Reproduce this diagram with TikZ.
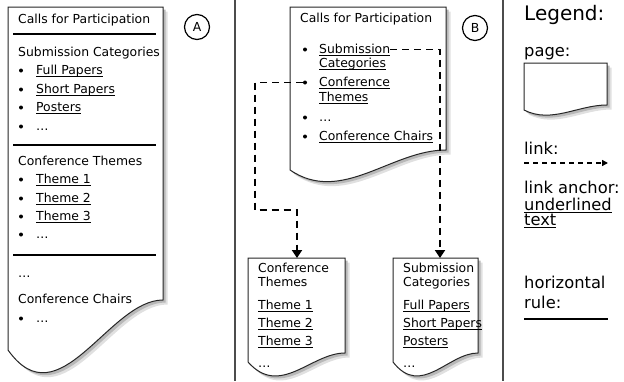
\documentclass[tikz,border=0pt]{standalone}
\usepackage{fontspec}
\setmainfont{DejaVu Sans}
\newcommand{\ulink}[1]{{\setbox0\hbox{#1}\rlap{\rule[-2.9pt]{\wd0}{0.9pt}}\box0}}
\usetikzlibrary{arrows.meta, positioning}

\begin{document}
\begin{tikzpicture}[x=1pt, y=-1pt,
  txt/.style={font=\fontsize{12.4}{14}\selectfont, inner sep=0pt, anchor=base west},
  lgtxt/.style={font=\fontsize{16.3}{19}\selectfont, inner sep=0pt, anchor=base west},
  itemdot/.style={circle, fill=black, inner sep=0pt, minimum size=4pt},
  rulebar/.style={draw=black, line width=2pt},
  sep/.style={draw=black!70, line width=1.6pt},
  pagebox/.style={draw=black!85, fill=white, line width=1pt},
  pageshadow/.style={fill=black!28},
  tag/.style={circle, draw=black, line width=1.2pt, minimum size=25pt, inner sep=0pt, font=\fontsize{12.4}{14}\selectfont},
  link/.style={draw=black, line width=1.8pt, dash pattern=on 7pt off 5pt, -{Triangle[width=10pt, length=8pt]}},
  legendlink/.style={draw=black, line width=1.4pt, dash pattern=on 5pt off 4pt, -{Triangle[width=6pt, length=6pt]}},
]
\useasboundingbox (0,0) rectangle (624,381);

% pages: left/top/right/left bottom/right bottom/wave depth
\foreach \l/\t/\r/\yl/\yr/\k in {8/7/163/350/300/72, 290/7/446/170/150/35, 248/258/345/362/353/36, 393/258/478/362/353/36, 524/63/607/110/105/14} {
  \fill[pageshadow, black!12, shift={(4.5,4.5)}] (\l,\t) -- (\r,\t) -- (\r,\yr) .. controls ({\r-0.35*(\r-\l)},\yr) and ({\l+0.33*(\r-\l)},{\yl+\k}) .. (\l,\yl) -- cycle;
  \fill[pageshadow, shift={(2.5,2.5)}] (\l,\t) -- (\r,\t) -- (\r,\yr) .. controls ({\r-0.35*(\r-\l)},\yr) and ({\l+0.33*(\r-\l)},{\yl+\k}) .. (\l,\yl) -- cycle;
  \draw[pagebox] (\l,\t) -- (\r,\t) -- (\r,\yr) .. controls ({\r-0.35*(\r-\l)},\yr) and ({\l+0.33*(\r-\l)},{\yl+\k}) .. (\l,\yl) -- cycle;
}

% separators
\draw[sep] (235,0) -- (235,381);
\draw[sep] (503,0) -- (503,381);

% A -- one long page
\node[txt] (aTitle) at (18,23) {Calls for Participation};
\draw[rulebar] (13,34) -- (156,34);
\node[txt] (aSub) at (18,56) {Submission Categories};
\foreach \txt/\y [count=\i] in {\ulink{Full Papers}/74, \ulink{Short Papers}/93, \ulink{Posters}/111, …/130} {
  \node[itemdot] (aSb\i) at (21,\y-3.5) {};
  \node[txt] (aSi\i) at (36,\y) {\txt};
}
\draw[rulebar] (13,145) -- (156,145);
\node[txt] (aThm) at (18,165) {Conference Themes};
\foreach \txt/\y [count=\i] in {\ulink{Theme 1}/183, \ulink{Theme 2}/202, \ulink{Theme 3}/220, …/238} {
  \node[itemdot] (aTb\i) at (21,\y-3.5) {};
  \node[txt] (aTi\i) at (36,\y) {\txt};
}
\draw[rulebar] (13,255) -- (156,255);
\node[txt] (aMore) at (18,277) {…};
\node[txt] (aChairs) at (18,303) {Conference Chairs};
\node[itemdot] (aCb1) at (21,318.5) {};
\node[txt] (aCi1) at (36,322) {…};
\node[tag] (tagA) at (197,27) {A};

% B -- split into linked pages
\node[txt] (bTitle) at (300,22) {Calls for Participation};
\node[itemdot] (bB1) at (305,49.5) {};
\node[txt] (bSub) at (319,53) {\ulink{Submission}};
\node[txt] (bSub2) at (319,67) {\ulink{Categories}};
\node[itemdot] (bB2) at (305,82.5) {};
\node[txt] (bThm) at (319,86) {\ulink{Conference}};
\node[txt] (bThm2) at (319,101) {\ulink{Themes}};
\node[itemdot] (bB3) at (305,117.5) {};
\node[txt] (bMore) at (319,121) {…};
\node[itemdot] (bB4) at (305,136.5) {};
\node[txt] (bChairs) at (319,140) {\ulink{Conference Chairs}};
\node[tag] (tagB) at (475,28) {B};

\node[txt] (tHead) at (258,272) {Conference};
\node[txt] (tHead2) at (258,286) {Themes};
\node[txt] (tItem1) at (258,309) {\ulink{Theme 1}};
\node[txt] (tItem2) at (258,327) {\ulink{Theme 2}};
\node[txt] (tItem3) at (258,345) {\ulink{Theme 3}};
\node[txt] (tMore) at (258,367) {…};

\node[txt] (sHead) at (403,272) {Submission};
\node[txt] (sHead2) at (403,286) {Categories};
\node[txt] (sItem1) at (403,309) {\ulink{Full Papers}};
\node[txt] (sItem2) at (403,327) {\ulink{Short Papers}};
\node[txt] (sItem3) at (403,345) {\ulink{Posters}};
\node[txt] (sMore) at (403,367) {…};

\coordinate (thmTop) at (297,258);
\coordinate (subTop) at (440,258);
\coordinate (thmBend) at (255,210);
\draw[link] (bSub.east |- bB1) -| (subTop);
\draw[link] (bB2.west) -| (thmBend) -| (thmTop);

% legend
\node[lgtxt, font=\fontsize{20}{24}\selectfont] (lgTitle) at (524,20) {Legend:};
\node[lgtxt] (lgPage) at (524,56) {page:};
\node[lgtxt] (lgLink) at (524,154) {link:};
\coordinate (lgFrom) at (524,163);
\coordinate (lgTo) at (608,163);
\draw[legendlink] (lgFrom) -- (lgTo);
\node[lgtxt] (lgAnchor) at (524,193) {link anchor:};
\node[lgtxt] (lgUl1) at (524,210) {\ulink{underlined}};
\node[lgtxt] (lgUl2) at (524,225) {\ulink{text}};
\node[lgtxt] (lgHor) at (524,288) {horizontal};
\node[lgtxt] (lgRule) at (524,308) {rule:};
\draw[rulebar, line width=2.5pt] (524,319) -- (608,319);

\end{tikzpicture}
\end{document}
